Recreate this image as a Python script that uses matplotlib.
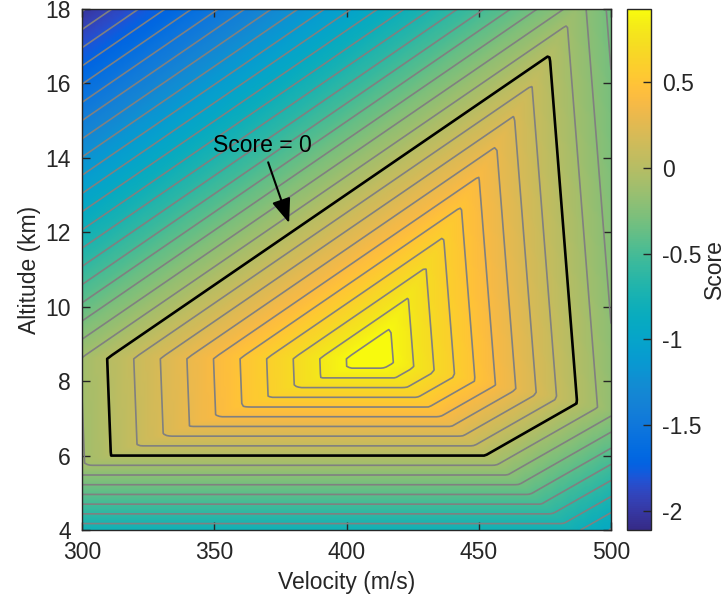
import numpy as np
import matplotlib
matplotlib.use("Agg")
import matplotlib.pyplot as plt
from matplotlib.colors import LinearSegmentedColormap, Normalize
from matplotlib.cm import ScalarMappable

plt.rcParams["font.family"] = ["Liberation Sans", "DejaVu Sans"]
plt.rcParams["axes.unicode_minus"] = False

# Score = 0 boundary (corners of the feasible region)
zero_velocity = [309.5, 476.8, 487.2, 452.4, 310.9]   # m/s
zero_altitude = [8.61, 16.76, 7.41, 6.0, 6.0]          # km
# Location and value of the best score
peak_velocity = 410.0
peak_altitude = 8.61
peak_score = 1.0
# Colour range of the score scale
score_limits = (-2.11, 0.925)
colorbar_ticks = [-2, -1.5, -1, -0.5, 0, 0.5]
colorbar_ticklabels = ["-2", "-1.5", "-1", "-0.5", "0", "0.5"]
x_ticks = [300, 350, 400, 450, 500]
y_ticks = [4, 6, 8, 10, 12, 14, 16, 18]

# MATLAB parula colormap
parula_rgb = [
    (0.2081, 0.1663, 0.5292), (0.2116, 0.1898, 0.5777), (0.2123, 0.2138, 0.6270),
    (0.2081, 0.2386, 0.6771), (0.1959, 0.2645, 0.7279), (0.1707, 0.2919, 0.7792),
    (0.1253, 0.3242, 0.8303), (0.0591, 0.3598, 0.8683), (0.0117, 0.3875, 0.8820),
    (0.0060, 0.4086, 0.8828), (0.0165, 0.4266, 0.8786), (0.0329, 0.4430, 0.8720),
    (0.0498, 0.4586, 0.8641), (0.0629, 0.4737, 0.8554), (0.0723, 0.4887, 0.8467),
    (0.0779, 0.5040, 0.8384), (0.0793, 0.5200, 0.8312), (0.0749, 0.5375, 0.8263),
    (0.0641, 0.5570, 0.8240), (0.0488, 0.5772, 0.8228), (0.0343, 0.5966, 0.8199),
    (0.0265, 0.6137, 0.8135), (0.0239, 0.6287, 0.8038), (0.0231, 0.6418, 0.7913),
    (0.0228, 0.6535, 0.7768), (0.0267, 0.6642, 0.7607), (0.0384, 0.6743, 0.7436),
    (0.0590, 0.6838, 0.7254), (0.0843, 0.6928, 0.7062), (0.1133, 0.7015, 0.6859),
    (0.1453, 0.7098, 0.6646), (0.1801, 0.7177, 0.6424), (0.2178, 0.7250, 0.6193),
    (0.2586, 0.7317, 0.5954), (0.3022, 0.7376, 0.5712), (0.3482, 0.7424, 0.5473),
    (0.3953, 0.7459, 0.5244), (0.4420, 0.7481, 0.5033), (0.4871, 0.7491, 0.4840),
    (0.5300, 0.7491, 0.4661), (0.5709, 0.7485, 0.4494), (0.6099, 0.7473, 0.4337),
    (0.6473, 0.7456, 0.4188), (0.6834, 0.7435, 0.4044), (0.7184, 0.7411, 0.3905),
    (0.7525, 0.7384, 0.3768), (0.7858, 0.7356, 0.3633), (0.8185, 0.7327, 0.3498),
    (0.8507, 0.7299, 0.3360), (0.8824, 0.7274, 0.3217), (0.9139, 0.7258, 0.3063),
    (0.9450, 0.7261, 0.2886), (0.9739, 0.7314, 0.2666), (0.9938, 0.7455, 0.2403),
    (0.9990, 0.7653, 0.2164), (0.9955, 0.7861, 0.1967), (0.9880, 0.8066, 0.1794),
    (0.9789, 0.8271, 0.1633), (0.9697, 0.8481, 0.1475), (0.9626, 0.8705, 0.1309),
    (0.9589, 0.8949, 0.1132), (0.9598, 0.9218, 0.0948), (0.9661, 0.9514, 0.0755),
    (0.9763, 0.9831, 0.0538),
]
parula = LinearSegmentedColormap.from_list("parula", parula_rgb, N=256)

# Piecewise-planar score surface: one plane per boundary edge, zero on the
# edge and equal to the peak score at the optimum; the score is their minimum.
velocity = np.linspace(300, 500, 201)
altitude = np.linspace(4, 18, 141)
V, H = np.meshgrid(velocity, altitude)
score = np.full(V.shape, np.inf)
n = len(zero_velocity)
for i in range(n):
    x0, y0 = zero_velocity[i], zero_altitude[i]
    x1, y1 = zero_velocity[(i + 1) % n], zero_altitude[(i + 1) % n]
    ex, ey = x1 - x0, y1 - y0
    at_peak = ex * (peak_altitude - y0) - ey * (peak_velocity - x0)
    plane = peak_score * (ex * (H - y0) - ey * (V - x0)) / at_peak
    score = np.minimum(score, plane)

fig = plt.figure(figsize=(7.26, 6.09), dpi=100)
ax = fig.add_axes([0.113, 0.1297, 0.7286, 0.8555])
norm = Normalize(vmin=score_limits[0], vmax=score_limits[1])

ax.imshow(score, extent=(velocity[0], velocity[-1], altitude[0], altitude[-1]),
          origin="lower", aspect="auto", cmap=parula, norm=norm,
          interpolation="bilinear")
levels = np.round(np.arange(-2.1, 0.95, 0.1), 2)
levels = levels[levels != 0]
ax.contour(V, H, score, levels=levels, colors=[(0.5, 0.5, 0.5)],
           linewidths=1.2, linestyles="solid", negative_linestyles="solid")
ax.contour(V, H, score, levels=[0], colors="black", linewidths=1.9,
           linestyles="solid")

ax.annotate("Score = 0", xy=(378.3, 12.25), xytext=(349.5, 14.16),
            fontsize=16.5, ha="left", va="baseline", color="black",
            arrowprops=dict(arrowstyle="-|>,head_length=0.9,head_width=0.35",
                            color="black", lw=1.5, shrinkA=2, shrinkB=0))

text_color = "#262626"
ax.set_xlim(300, 500)
ax.set_ylim(4, 18)
ax.set_xticks(x_ticks)
ax.set_yticks(y_ticks)
ax.tick_params(direction="in", length=6, width=1, labelsize=16.5,
               top=True, right=True, colors=text_color, pad=8)
ax.set_xlabel("Velocity (m/s)", fontsize=16.5, color=text_color, labelpad=5)
ax.set_ylabel("Altitude (km)", fontsize=16.5, color=text_color, labelpad=3)
for s in ax.spines.values():
    s.set_color(text_color)
    s.set_linewidth(1.0)

cax = fig.add_axes([0.8636, 0.1297, 0.0331, 0.8555])
cb = fig.colorbar(ScalarMappable(norm=norm, cmap=parula), cax=cax)
cb.set_ticks(colorbar_ticks)
cb.set_ticklabels(colorbar_ticklabels)
cax.tick_params(direction="in", length=6, width=1, labelsize=16.5,
                colors=text_color, pad=8)
cb.outline.set_edgecolor(text_color)
cb.outline.set_linewidth(1.0)
cb.set_label("Score", fontsize=16.5, color=text_color, labelpad=1)

fig.savefig("out.png", dpi=100)
